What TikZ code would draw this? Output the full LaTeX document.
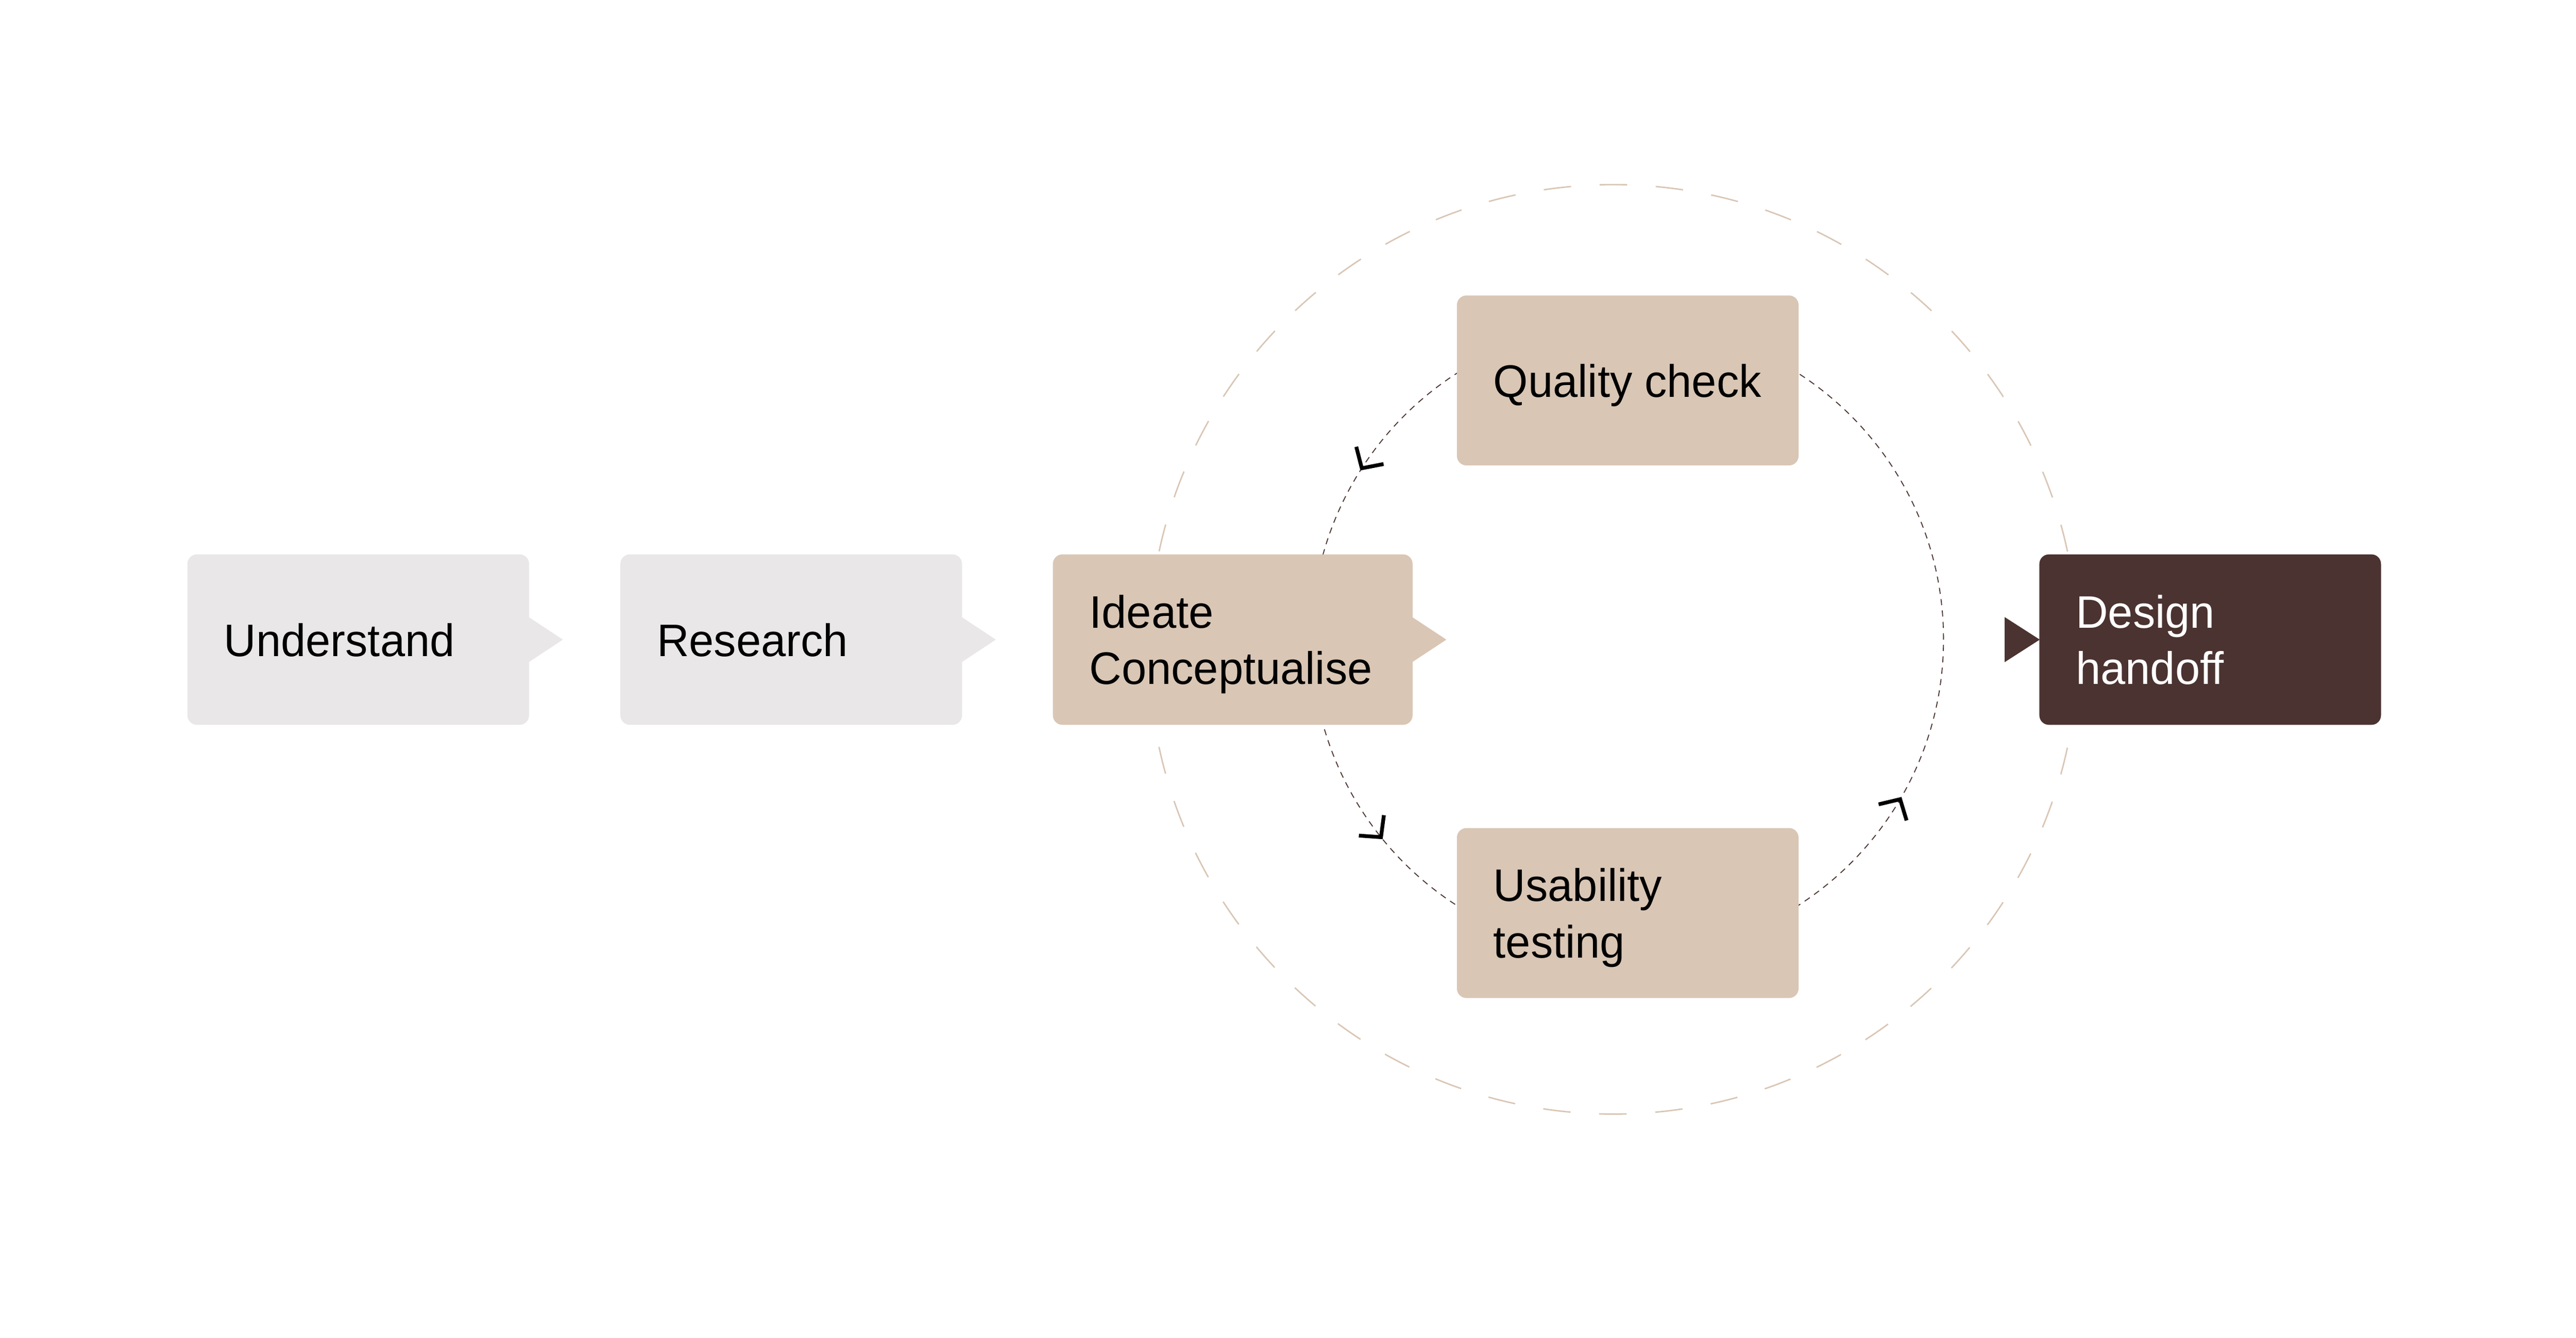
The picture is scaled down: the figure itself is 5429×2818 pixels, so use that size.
\documentclass[tikz,border=0pt]{standalone}
\usepackage{fontspec}
\setmainfont{Liberation Sans}[FakeStretch=0.98]
\usetikzlibrary{arrows.meta}
\definecolor{boxgrey}{HTML}{E9E7E8}
\definecolor{boxbeige}{HTML}{D9C6B5}
\definecolor{boxdark}{HTML}{4A3330}
\definecolor{ringbeige}{HTML}{D9C6B5}
\definecolor{loopline}{HTML}{4A3330}
\begin{document}
\begin{tikzpicture}[x=1pt,y=1pt,
  card/.style={rectangle, rounded corners=20pt, minimum width=720pt,
    minimum height=359pt, inner sep=0pt, draw=none},
  cardtext/.style={inner sep=0pt, anchor=west, align=left,
    font=\fontsize{96pt}{119pt}\selectfont, text depth=0pt},
  outerring/.style={draw=ringbeige, line width=3pt,
    dash pattern=on 58pt off 60.29pt, dash phase=29pt},
  innerring/.style={draw=loopline, line width=2pt,
    dash pattern=on 13pt off 11.05pt},
  looptip/.style={draw=black, line cap=butt, dash pattern=on 0pt off 2000pt,
    -{Straight Barb[length=32pt,width=68pt,line width=8pt]}}
]
\useasboundingbox (0,0) rectangle (5429,2818);

% rings
\coordinate (oc) at (3400,1450);
\coordinate (ic) at (3430,1471);
\draw[outerring] (oc) circle[radius=979pt];
\draw[innerring] (ic) circle[radius=666pt];

% cards
\node[card, fill=boxgrey] (u) at (755,1470.5) {};
\node[card, fill=boxgrey] (r) at (1667.5,1470.5) {};
\node[card, fill=boxbeige, minimum width=758pt] (i) at (2598,1470.5) {};
\node[card, fill=boxbeige, minimum height=358pt] (q) at (3430.5,2016.5) {};
\node[card, fill=boxbeige, minimum height=358pt] (t) at (3430.5,894.5) {};
\node[card, fill=boxdark] (d) at (4658,1470.5) {};

% pointer tabs
\fill[boxgrey] ([xshift=-1pt,yshift=47.5pt]u.east) -- ([xshift=71pt]u.east) -- ([xshift=-1pt,yshift=-47.5pt]u.east) -- cycle;
\fill[boxgrey] ([xshift=-1pt,yshift=47.5pt]r.east) -- ([xshift=71pt]r.east) -- ([xshift=-1pt,yshift=-47.5pt]r.east) -- cycle;
\fill[boxbeige] ([xshift=-1pt,yshift=47.5pt]i.east) -- ([xshift=71pt]i.east) -- ([xshift=-1pt,yshift=-47.5pt]i.east) -- cycle;
\fill[boxdark] ([xshift=-73pt,yshift=47.5pt]d.west) -- ([xshift=1pt]d.west) -- ([xshift=-73pt,yshift=-47.5pt]d.west) -- cycle;

% texts
\node[cardtext] (ul) at ([xshift=77pt]u.west) {Understand};
\node[cardtext] (rl) at ([xshift=77pt]r.west) {Research};
\node[cardtext] (il) at ([xshift=77pt]i.west) {Ideate\\Conceptualise};
\node[cardtext] (ql) at ([xshift=77pt]q.west) {Quality check};
\node[cardtext] (tl) at ([xshift=77pt]t.west) {Usability\\testing};
\node[cardtext, text=white] (dl) at ([xshift=77pt]d.west) {Design\\handoff};

% loop arrowheads
\draw[looptip] (ic) ++(145.7:666pt) arc[start angle=145.7, end angle=147.7, radius=666pt];
\draw[looptip] (ic) ++(217.2:666pt) arc[start angle=217.2, end angle=219.2, radius=666pt];
\draw[looptip] (ic) ++(328.1:666pt) arc[start angle=328.1, end angle=330.1, radius=666pt];
\end{tikzpicture}
\end{document}
